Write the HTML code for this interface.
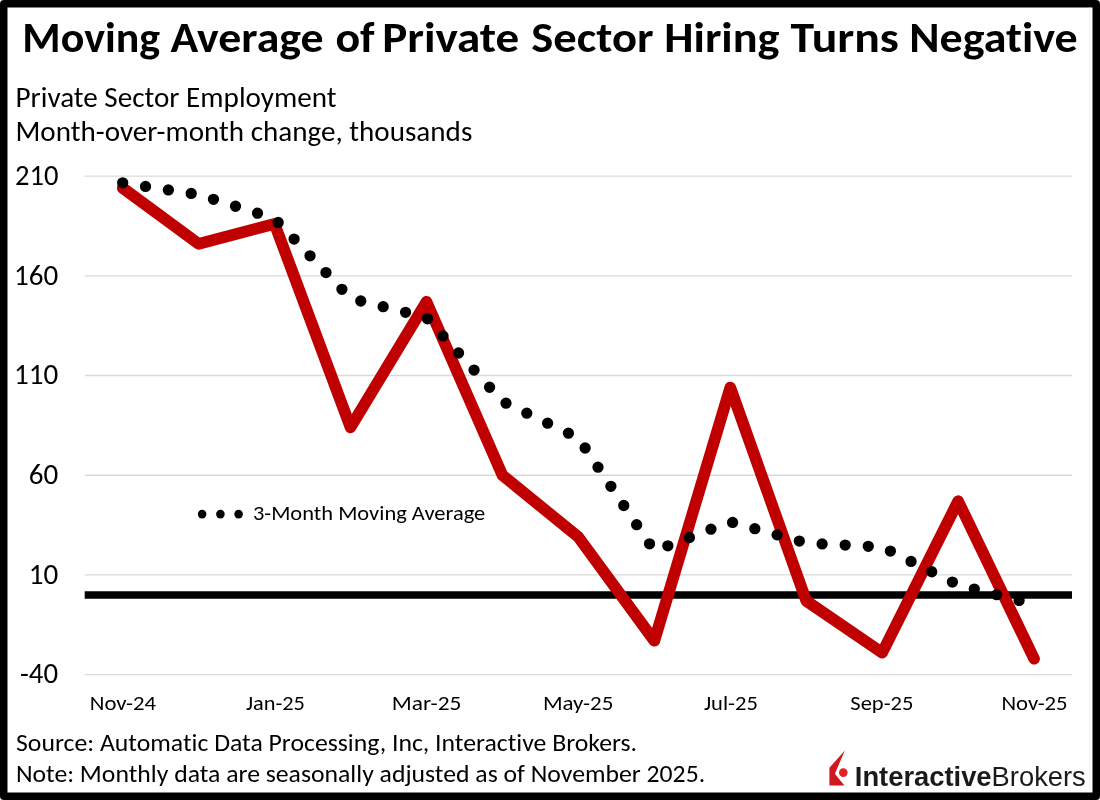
<!DOCTYPE html>
<html><head><meta charset="utf-8"><title>Moving Average of Private Sector Hiring Turns Negative</title>
<style>
html,body{margin:0;padding:0;background:#fff;}
#frame{position:relative;width:1100px;height:800px;overflow:hidden;background:#fff;}
svg{position:absolute;left:0;top:0;will-change:transform;}
text{white-space:pre;font-variant-ligatures:none;font-feature-settings:"liga" 0;}
</style></head><body>
<div id="frame">
<svg width="1100" height="800" viewBox="0 0 1100 800">
  <rect x="0" y="0" width="1100" height="800" rx="4" fill="#000"/>
  <rect x="7.5" y="7.5" width="1085" height="785" fill="#fff"/>
  <line x1="1089.6" y1="7.5" x2="1089.6" y2="790" stroke="#f0f0f0" stroke-width="1.2"/>
  <g stroke="#d9d9d9" stroke-width="1.3" fill="none"><line x1="84.7" x2="1072" y1="176.08" y2="176.08"/><line x1="84.7" x2="1072" y1="275.80" y2="275.80"/><line x1="84.7" x2="1072" y1="375.52" y2="375.52"/><line x1="84.7" x2="1072" y1="475.24" y2="475.24"/><line x1="84.7" x2="1072" y1="574.96" y2="574.96"/><line x1="84.7" x2="1072" y1="674.68" y2="674.68"/></g>
  <line x1="84.7" x2="1072" y1="594.90" y2="594.90" stroke="#000" stroke-width="7.5"/>
  <polyline points="122.70,188.04 198.65,243.89 274.60,223.94 350.55,427.37 426.50,301.72 502.45,475.24 578.40,537.06 654.35,640.77 730.30,387.48 806.25,600.88 882.20,652.74 958.15,501.16 1034.10,658.72" fill="none" stroke="#c00000" stroke-width="11.6" stroke-linejoin="round" stroke-linecap="round"/>
  <polyline points="122.70,182.86 198.65,194.62 274.60,218.62 350.55,298.39 426.50,317.68 502.45,401.44 578.40,438.00 654.35,551.02 730.30,521.77 806.25,543.05 882.20,547.03 958.15,584.93 1034.10,604.21" fill="none" stroke="#000" stroke-width="11.3" stroke-linecap="round" stroke-linejoin="round" stroke-dasharray="0 23.1"/>
  <g font-family="Carlito, 'Liberation Sans', sans-serif" fill="#000">
    <text x="22.37" y="51.50" font-size="42" font-weight="bold" textLength="137.70" lengthAdjust="spacingAndGlyphs">Moving</text>
    <text x="170.48" y="51.50" font-size="42" font-weight="bold" textLength="153.04" lengthAdjust="spacingAndGlyphs">Average</text>
    <text x="335.40" y="51.50" font-size="42" font-weight="bold" textLength="39.21" lengthAdjust="spacingAndGlyphs">of</text>
    <text x="382.20" y="51.50" font-size="42" font-weight="bold" textLength="137.05" lengthAdjust="spacingAndGlyphs">Private</text>
    <text x="531.33" y="51.50" font-size="42" font-weight="bold" textLength="122.19" lengthAdjust="spacingAndGlyphs">Sector</text>
    <text x="664.29" y="51.50" font-size="42" font-weight="bold" textLength="115.27" lengthAdjust="spacingAndGlyphs">Hiring</text>
    <text x="790.47" y="51.50" font-size="42" font-weight="bold" textLength="108.34" lengthAdjust="spacingAndGlyphs">Turns</text>
    <text x="909.26" y="51.50" font-size="42" font-weight="bold" textLength="168.43" lengthAdjust="spacingAndGlyphs">Negative</text>
    <text x="15.59" y="106.80" font-size="28" textLength="320.90" lengthAdjust="spacingAndGlyphs">Private Sector Employment</text>
    <text x="15.49" y="141.30" font-size="28" textLength="456.81" lengthAdjust="spacingAndGlyphs">Month-over-month change, thousands</text>
    <text x="58.50" y="184.78" font-size="28.5" text-anchor="end" textLength="43.49" lengthAdjust="spacingAndGlyphs">210</text>
    <text x="58.30" y="284.50" font-size="28.5" text-anchor="end" textLength="44.21" lengthAdjust="spacingAndGlyphs">160</text>
    <text x="58.30" y="384.22" font-size="28.5" text-anchor="end" textLength="44.21" lengthAdjust="spacingAndGlyphs">110</text>
    <text x="58.30" y="483.94" font-size="28.5" text-anchor="end" textLength="29.47" lengthAdjust="spacingAndGlyphs">60</text>
    <text x="58.30" y="583.66" font-size="28.5" text-anchor="end" textLength="29.47" lengthAdjust="spacingAndGlyphs">10</text>
    <text x="58.10" y="683.38" font-size="28.5" text-anchor="end" textLength="38.09" lengthAdjust="spacingAndGlyphs">-40</text>
    <text x="122.90" y="710.40" font-size="21" text-anchor="middle" textLength="66.37" lengthAdjust="spacingAndGlyphs">Nov-24</text>
    <text x="275.40" y="710.40" font-size="21" text-anchor="middle" textLength="59.00" lengthAdjust="spacingAndGlyphs">Jan-25</text>
    <text x="426.60" y="710.40" font-size="21" text-anchor="middle" textLength="69.47" lengthAdjust="spacingAndGlyphs">Mar-25</text>
    <text x="578.10" y="710.40" font-size="21" text-anchor="middle" textLength="70.45" lengthAdjust="spacingAndGlyphs">May-25</text>
    <text x="730.90" y="710.40" font-size="21" text-anchor="middle" textLength="53.93" lengthAdjust="spacingAndGlyphs">Jul-25</text>
    <text x="881.85" y="710.40" font-size="21" text-anchor="middle" textLength="63.11" lengthAdjust="spacingAndGlyphs">Sep-25</text>
    <text x="1034.55" y="710.40" font-size="21" text-anchor="middle" textLength="66.15" lengthAdjust="spacingAndGlyphs">Nov-25</text>
    <text x="252.90" y="520.30" font-size="21.2" textLength="232.32" lengthAdjust="spacingAndGlyphs">3-Month Moving Average</text>
    <text x="16.00" y="751.00" font-size="23.6" textLength="621.10" lengthAdjust="spacingAndGlyphs">Source: Automatic Data Processing, Inc, Interactive Brokers.</text>
    <text x="15.90" y="782.00" font-size="23.9" textLength="689.29" lengthAdjust="spacingAndGlyphs">Note: Monthly data are seasonally adjusted as of November 2025.</text>
  </g>
  <g fill="#000"><circle cx="202.1" cy="514.1" r="4.3"/><circle cx="220.4" cy="514.1" r="4.3"/><circle cx="238.6" cy="514.1" r="4.3"/></g>
  <g>
    <path d="M829.4,767.8 L844.9,750.4 L834.9,773.7 L844.4,785.6 L829.4,785.6 Z" fill="#cf1820"/>
    <circle cx="843.3" cy="772.6" r="4.3" fill="#e41f27"/>
    <text x="854.8" y="785.8" font-family="'Liberation Sans', Arial, sans-serif" font-size="27.1" fill="#1a1a1a" textLength="231" lengthAdjust="spacingAndGlyphs"><tspan font-weight="bold">Interactive</tspan>Brokers</text>
  </g>
</svg>
</div>
</body></html>
